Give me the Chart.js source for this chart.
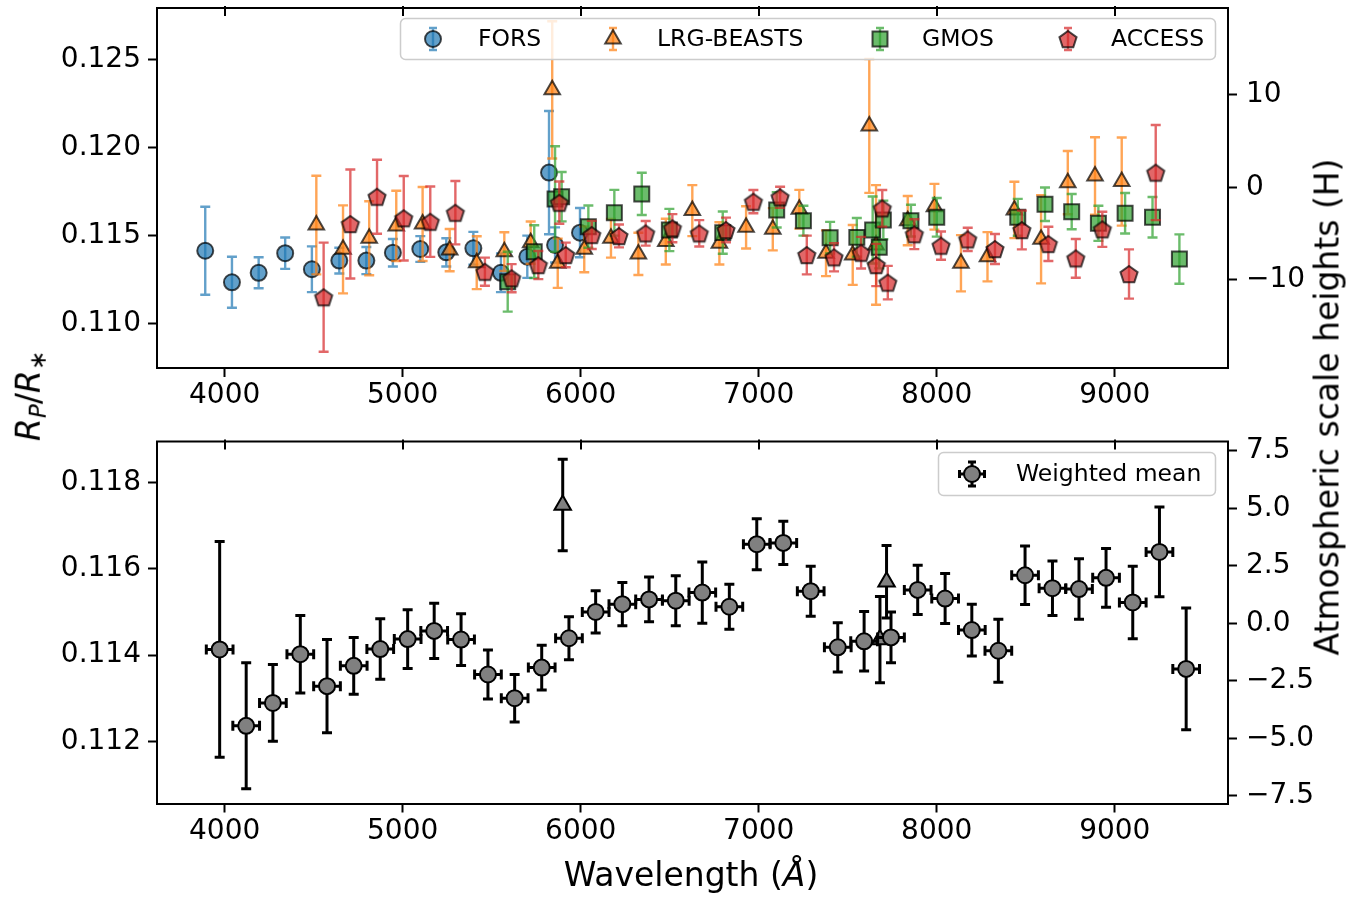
<!DOCTYPE html>
<html>
<head>
<meta charset="utf-8">
<script src="https://cdn.jsdelivr.net/npm/chart.js@4.4.1/dist/chart.umd.min.js"></script>
<style>
    body { margin: 0; background: #fff; width: 1364px; height: 897px; position: relative; overflow: hidden; font-family: 'DejaVu Sans'; }
    canvas { position: absolute; left: 0; }
    #top_chart { top: -20px; }
    #bottom_chart { top: 420px; }
    .label { position: absolute; font-size: 33px; color: #000; white-space: nowrap; line-height: 1; transform: translate(-50%, -50%); }
    .rot { transform: translate(-50%, -50%) rotate(-90deg); }
    .label sub { font-size: 0.7em; vertical-align: -0.28em; }
</style>
</head>
<body>
<canvas id="top_chart" width="1364" height="440"></canvas>
<canvas id="bottom_chart" width="1364" height="440"></canvas>
<div class="label rot" style="left:31px; top:396px;"><i>R</i><sub><i>P</i></sub>/<i>R</i><sub>∗</sub></div>
<div class="label rot" style="left:1327px; top:407px;">Atmospheric scale heights (H)</div>
<div class="label" style="left:691px; top:874px;">Wavelength (<i>Å</i>)</div>
<script>
// Rp/R* per wavelength bin (Angstrom), one set of arrays per instrument
const fors_wave = [3891, 4041, 4191, 4340, 4490, 4644, 4796, 4945, 5099, 5245, 5397, 5552, 5700, 5822, 5856, 5996];
const fors_depth = [0.11416, 0.11237, 0.11291, 0.11402, 0.11311, 0.11360, 0.11360, 0.11405, 0.11426, 0.11407, 0.11430, 0.11291, 0.11382, 0.11860, 0.11449, 0.11519];
const fors_err = [0.0025, 0.00145, 0.00088, 0.00089, 0.0013, 0.00073, 0.00077, 0.00078, 0.00073, 0.0008, 0.00093, 0.0011, 0.0012, 0.0035, 0.0010, 0.0014];

const lrg_wave = [4515, 4665, 4812, 4964, 5112, 5264, 5416, 5571, 5719, 5840, 5871, 6020, 6170, 6324, 6478, 6627, 6779, 6929, 7079, 7228, 7378, 7528, 7621, 7659, 7837, 7987, 8136, 8285, 8436, 8586, 8736, 8889, 9039];
const lrg_depth = [0.11562, 0.11424, 0.11487, 0.11557, 0.11568, 0.11420, 0.11348, 0.11411, 0.11462, 0.12330, 0.11345, 0.11424, 0.11487, 0.11398, 0.11468, 0.11644, 0.11458, 0.11549, 0.11538, 0.11652, 0.11402, 0.11392, 0.12125, 0.11449, 0.11587, 0.11666, 0.11345, 0.11382, 0.11648, 0.11481, 0.11803, 0.11841, 0.11809];
const lrg_err = [0.0028, 0.0025, 0.0021, 0.0020, 0.0021, 0.0012, 0.0015, 0.0011, 0.0012, 0.0039, 0.0014, 0.0013, 0.0011, 0.0012, 0.0013, 0.00145, 0.0012, 0.0012, 0.0012, 0.0011, 0.0013, 0.0017, 0.0038, 0.0034, 0.0014, 0.0013, 0.0016, 0.0014, 0.0016, 0.0025, 0.0018, 0.0022, 0.0025];

const gmos_wave = [5590, 5739, 5856, 5893, 6043, 6189, 6343, 6498, 6798, 7101, 7251, 7401, 7551, 7640, 7677, 7700, 7855, 8000, 8455, 8608, 8758, 8908, 9058, 9212, 9363];
const gmos_depth = [0.11240, 0.11411, 0.11710, 0.11723, 0.11553, 0.11632, 0.11739, 0.11534, 0.11519, 0.11648, 0.11587, 0.11490, 0.11492, 0.11534, 0.11436, 0.11591, 0.11587, 0.11606, 0.11606, 0.11680, 0.11638, 0.11572, 0.11629, 0.11606, 0.11369];
const gmos_err = [0.0017, 0.0015, 0.0030, 0.0014, 0.0012, 0.0013, 0.0012, 0.0012, 0.0012, 0.0010, 0.00085, 0.0009, 0.0011, 0.0019, 0.0012, 0.0011, 0.0009, 0.0011, 0.00105, 0.00095, 0.0010, 0.0010, 0.00115, 0.00115, 0.0014];

const access_wave = [4556, 4706, 4856, 5006, 5155, 5296, 5462, 5612, 5762, 5880, 5916, 6062, 6215, 6365, 6515, 6666, 6816, 6970, 7120, 7270, 7423, 7575, 7660, 7694, 7725, 7874, 8024, 8174, 8327, 8478, 8627, 8781, 8930, 9080, 9230];
const access_depth = [0.11152, 0.11568, 0.11723, 0.11601, 0.11581, 0.11632, 0.11297, 0.11260, 0.11335, 0.11689, 0.11392, 0.11506, 0.11500, 0.11515, 0.11544, 0.11515, 0.11534, 0.11695, 0.11720, 0.11392, 0.11379, 0.11405, 0.11335, 0.11657, 0.11235, 0.11510, 0.11445, 0.11481, 0.11426, 0.11534, 0.11455, 0.11373, 0.11538, 0.11284, 0.11860];
const access_err = [0.0031, 0.0031, 0.0021, 0.0024, 0.0020, 0.0018, 0.0008, 0.0008, 0.0008, 0.0012, 0.0007, 0.0008, 0.00065, 0.0007, 0.0008, 0.00075, 0.0007, 0.00066, 0.0006, 0.0011, 0.0008, 0.0009, 0.0012, 0.00104, 0.00095, 0.00085, 0.0008, 0.00066, 0.00085, 0.0011, 0.00097, 0.0011, 0.0010, 0.0014, 0.0027];

// combined spectrum: 150 A bins plus the narrow Na / K bins
const mean_wave = [3972, 4121, 4271, 4425, 4575, 4725, 4874, 5028, 5177, 5328, 5479, 5629, 5781, 5934, 6084, 6234, 6384, 6534, 6683, 6835, 6989, 7138, 7292, 7444, 7592, 7743, 7893, 8047, 8197, 8346, 8496, 8650, 8799, 8951, 9101, 9251, 9401];
const mean_depth = [0.11413, 0.11236, 0.11289, 0.11402, 0.11328, 0.11375, 0.11414, 0.11437, 0.11456, 0.11436, 0.11355, 0.11300, 0.11371, 0.11439, 0.11500, 0.11518, 0.11529, 0.11526, 0.11545, 0.11512, 0.11657, 0.11660, 0.11548, 0.11418, 0.11432, 0.11441, 0.11551, 0.11531, 0.11458, 0.11410, 0.11585, 0.11555, 0.11553, 0.11579, 0.11522, 0.11639, 0.11368];
const mean_err = [0.0025, 0.00146, 0.00089, 0.0009, 0.00108, 0.00066, 0.0007, 0.00068, 0.00064, 0.0006, 0.00057, 0.00055, 0.00052, 0.0005, 0.00049, 0.0005, 0.00052, 0.00058, 0.00071, 0.00052, 0.00059, 0.0005, 0.00058, 0.00057, 0.00069, 0.00059, 0.00057, 0.00058, 0.0006, 0.00073, 0.00068, 0.00063, 0.0007, 0.00068, 0.00084, 0.00104, 0.00141];
const mean_halfwidth = mean_wave.map(() => 75);

const narrow_wave = [5899, 7681, 7718];
const narrow_depth = [0.11748, 0.11436, 0.11570];
const narrow_err = [0.00106, 0.0010, 0.00084];

const wave_ticks = [4000, 5000, 6000, 7000, 8000, 9000];
const top_depth_ticks = [0.110, 0.115, 0.120, 0.125];
const top_height_ticks = [-10, 0, 10];
const bottom_depth_ticks = [0.112, 0.114, 0.116, 0.118];
const bottom_height_ticks = [-7.5, -5, -2.5, 0, 2.5, 5, 7.5];

Chart.defaults.font.family = "'DejaVu Sans'";
Chart.defaults.color = '#000';

const BLUE = 'rgba(31,119,180,0.7)';
const ORANGE = 'rgba(255,127,14,0.7)';
const GREEN = 'rgba(44,160,44,0.7)';
const RED = 'rgba(214,39,40,0.7)';
const EDGE = 'rgba(0,0,0,0.7)';

function points(wave, depth) {
    return wave.map((w, i) => ({x: w, y: depth[i]}));
}

// pentagon marker, there is no built in point style for it
function pentagon_marker(r, fill, edge, lw) {
    const c = document.createElement('canvas');
    const s = Math.ceil(2 * r + lw + 4);
    c.width = s;
    c.height = s;
    const g = c.getContext('2d');
    g.beginPath();
    for (let k = 0; k < 5; k++) {
        const a = -Math.PI / 2 + k * 2 * Math.PI / 5;
        const px = s / 2 + r * Math.cos(a), py = s / 2 + r * Math.sin(a) + 1;
        if (k === 0) g.moveTo(px, py); else g.lineTo(px, py);
    }
    g.closePath();
    g.fillStyle = fill;
    g.fill();
    g.lineWidth = lw;
    g.strokeStyle = edge;
    g.stroke();
    return c;
}
const pentagon = pentagon_marker(9, RED, EDGE, 2);

function minus(s) {
    return String(s).replace('-', '\u2212');
}

function fixed_ticks(list) {
    return scale => { scale.ticks = list.map(v => ({value: v})); };
}

function side_axis(width) {
    return scale => {
        scale.width = width;
        scale.paddingTop = 0;
        scale.paddingBottom = 0;
    };
}

function bottom_axis(height) {
    return scale => {
        scale.height = height;
        scale.paddingLeft = 0;
        scale.paddingRight = 0;
    };
}

const tick_font = {family: 'DejaVu Sans', size: 28};
const axis_grid = {drawOnChartArea: false, tickLength: 9, tickWidth: 2, tickColor: '#000'};
const axis_border = {display: true, color: '#000', width: 2};

function make_scales(area_bottom, canvas_height, depth_range, depth_ticks, height_range, height_ticks, height_fmt) {
    return {
        x: {
            type: 'linear', position: 'bottom', min: 3620, max: 9636,
            afterBuildTicks: fixed_ticks(wave_ticks),
            afterFit: bottom_axis(canvas_height - area_bottom),
            ticks: {font: tick_font, color: '#000', padding: 2, maxRotation: 0, autoSkip: false, callback: v => String(v)},
            grid: axis_grid, border: axis_border
        },
        y: {
            type: 'linear', position: 'left', min: depth_range[0], max: depth_range[1],
            afterBuildTicks: fixed_ticks(depth_ticks),
            afterFit: side_axis(157),
            ticks: {font: tick_font, color: '#000', padding: 7, callback: v => v.toFixed(3)},
            grid: axis_grid, border: axis_border
        },
        y2: {
            type: 'linear', position: 'right', min: height_range[0], max: height_range[1],
            afterBuildTicks: fixed_ticks(height_ticks),
            afterFit: side_axis(136),
            ticks: {font: tick_font, color: '#000', padding: 9, callback: v => minus(height_fmt(v))},
            grid: axis_grid, border: axis_border
        }
    };
}

// vertical (and optional horizontal) error bars, drawn just under each dataset's markers
const error_bars = {
    id: 'error_bars',
    beforeDatasetDraw(chart, args) {
        const ds = chart.data.datasets[args.index];
        if (!ds.y_err) return;
        const ctx = chart.ctx, xs = chart.scales.x, ys = chart.scales.y, a = chart.chartArea;
        const cap = ds.cap_size;
        ctx.save();
        ctx.beginPath();
        ctx.rect(a.left, a.top, a.right - a.left, a.bottom - a.top);
        ctx.clip();
        ctx.strokeStyle = ds.err_color;
        ctx.lineWidth = ds.err_width;
        ds.data.forEach((p, i) => {
            const px = xs.getPixelForValue(p.x), py = ys.getPixelForValue(p.y);
            const lo = ys.getPixelForValue(p.y - ds.y_err[i]);
            const hi = ys.getPixelForValue(p.y + ds.y_err[i]);
            ctx.beginPath();
            ctx.moveTo(px, lo); ctx.lineTo(px, hi);
            ctx.moveTo(px - cap, lo); ctx.lineTo(px + cap, lo);
            ctx.moveTo(px - cap, hi); ctx.lineTo(px + cap, hi);
            if (ds.x_err) {
                const l = xs.getPixelForValue(p.x - ds.x_err[i]);
                const r = xs.getPixelForValue(p.x + ds.x_err[i]);
                ctx.moveTo(l, py); ctx.lineTo(r, py);
                ctx.moveTo(l, py - cap); ctx.lineTo(l, py + cap);
                ctx.moveTo(r, py - cap); ctx.lineTo(r, py + cap);
            }
            ctx.stroke();
        });
        ctx.restore();
    }
};

// top spine with inward ticks
const frame = {
    id: 'frame',
    afterDraw(chart) {
        const ctx = chart.ctx, a = chart.chartArea, xs = chart.scales.x;
        ctx.save();
        ctx.strokeStyle = '#000';
        ctx.lineWidth = 2;
        ctx.beginPath();
        ctx.moveTo(a.left - 1, a.top);
        ctx.lineTo(a.right + 1, a.top);
        wave_ticks.forEach(w => {
            const px = Math.round(xs.getPixelForValue(w));
            ctx.moveTo(px, a.top - 2);
            ctx.lineTo(px, a.top + 8);
        });
        ctx.stroke();
        ctx.restore();
    }
};

function draw_point(ctx, style, radius, x, y, bw) {
    if (Chart.helpers && Chart.helpers.drawPoint) {
        Chart.helpers.drawPoint(ctx, {pointStyle: style, radius: radius, rotation: 0, borderWidth: bw}, x, y);
    } else {
        ctx.beginPath();
        ctx.arc(x, y, radius, 0, 2 * Math.PI);
        ctx.fill();
        ctx.stroke();
    }
}

function legend_plugin(box, items) {
    return {
        id: 'errorbar_legend',
        afterDraw(chart) {
            const ctx = chart.ctx;
            ctx.save();
            ctx.beginPath();
            ctx.roundRect(box.x, box.y, box.w, box.h, 5);
            ctx.fillStyle = 'rgba(255,255,255,0.8)';
            ctx.fill();
            ctx.strokeStyle = '#cccccc';
            ctx.lineWidth = 1.5;
            ctx.stroke();
            const cy = box.y + box.h / 2;
            items.forEach(it => {
                ctx.strokeStyle = it.err_color;
                ctx.lineWidth = it.err_width;
                ctx.beginPath();
                ctx.moveTo(it.cx, cy - it.bar); ctx.lineTo(it.cx, cy + it.bar);
                ctx.moveTo(it.cx - 4, cy - it.bar); ctx.lineTo(it.cx + 4, cy - it.bar);
                ctx.moveTo(it.cx - 4, cy + it.bar); ctx.lineTo(it.cx + 4, cy + it.bar);
                if (it.x_bar) {
                    ctx.moveTo(it.cx - it.x_bar, cy); ctx.lineTo(it.cx + it.x_bar, cy);
                    ctx.moveTo(it.cx - it.x_bar, cy - 4); ctx.lineTo(it.cx - it.x_bar, cy + 4);
                    ctx.moveTo(it.cx + it.x_bar, cy - 4); ctx.lineTo(it.cx + it.x_bar, cy + 4);
                }
                ctx.stroke();
                ctx.fillStyle = it.face;
                ctx.strokeStyle = it.edge;
                ctx.lineWidth = it.edge_width;
                draw_point(ctx, it.style, it.radius, it.cx, cy, it.edge_width);
                ctx.fillStyle = '#000';
                ctx.font = "23.5px 'DejaVu Sans'";
                ctx.textBaseline = 'middle';
                ctx.textAlign = 'left';
                ctx.fillText(it.label, it.tx, cy + 1);
            });
            ctx.restore();
        }
    };
}

function instrument(label, wave, depth, err, style, radius, color, order) {
    return {
        label: label, data: points(wave, depth), order: order,
        pointStyle: style, pointRadius: radius, pointHoverRadius: radius,
        pointBackgroundColor: color, pointBorderColor: EDGE, pointBorderWidth: 2,
        showLine: false,
        y_err: err, err_color: color, err_width: 2.4, cap_size: 5
    };
}

function top_chart() {
    const ctx = document.getElementById('top_chart').getContext('2d');
    new Chart(ctx, {
        type: 'scatter',
        data: {
            datasets: [
                instrument('FORS', fors_wave, fors_depth, fors_err, 'circle', 8, BLUE, 4),
                instrument('LRG-BEASTS', lrg_wave, lrg_depth, lrg_err, 'triangle', 9, ORANGE, 3),
                instrument('GMOS', gmos_wave, gmos_depth, gmos_err, 'rect', 10.6, GREEN, 2),
                instrument('ACCESS', access_wave, access_depth, access_err, pentagon, 9, RED, 1)
            ]
        },
        options: {
            responsive: false,
            animation: false,
            layout: {padding: {top: 28, left: 0, right: 0, bottom: 0}},
            plugins: {legend: {display: false}, tooltip: {enabled: false}},
            scales: make_scales(388, 440, [0.1075, 0.12795], top_depth_ticks, [-19.54, 19.38], top_height_ticks, v => String(v))
        },
        plugins: [error_bars, frame, legend_plugin({x: 400.5, y: 38.5, w: 815, h: 41}, [
            {label: 'FORS', cx: 433, tx: 478, style: 'circle', radius: 8, face: BLUE, edge: EDGE, edge_width: 2, err_color: BLUE, err_width: 2.4, bar: 11},
            {label: 'LRG-BEASTS', cx: 613, tx: 657, style: 'triangle', radius: 9, face: ORANGE, edge: EDGE, edge_width: 2, err_color: ORANGE, err_width: 2.4, bar: 11},
            {label: 'GMOS', cx: 880, tx: 922, style: 'rect', radius: 10.6, face: GREEN, edge: EDGE, edge_width: 2, err_color: GREEN, err_width: 2.4, bar: 11},
            {label: 'ACCESS', cx: 1068, tx: 1111, style: pentagon, radius: 9, face: RED, edge: EDGE, edge_width: 2, err_color: RED, err_width: 2.4, bar: 11}
        ])]
    });
}

function bottom_chart() {
    const ctx = document.getElementById('bottom_chart').getContext('2d');
    new Chart(ctx, {
        type: 'scatter',
        data: {
            datasets: [
                {
                    label: 'Weighted mean', data: points(mean_wave, mean_depth), order: 1,
                    pointStyle: 'circle', pointRadius: 8, pointHoverRadius: 8,
                    pointBackgroundColor: '#808080', pointBorderColor: '#000', pointBorderWidth: 2,
                    showLine: false,
                    y_err: mean_err, x_err: mean_halfwidth, err_color: '#000', err_width: 3, cap_size: 5
                },
                {
                    label: 'Narrow bins', data: points(narrow_wave, narrow_depth), order: 2,
                    pointStyle: 'triangle', pointRadius: 9.5, pointHoverRadius: 9.5,
                    pointBackgroundColor: '#808080', pointBorderColor: '#000', pointBorderWidth: 2,
                    showLine: false,
                    y_err: narrow_err, err_color: '#000', err_width: 3, cap_size: 5
                }
            ]
        },
        options: {
            responsive: false,
            animation: false,
            layout: {padding: {top: 21.5, left: 0, right: 0, bottom: 0}},
            plugins: {legend: {display: false}, tooltip: {enabled: false}},
            scales: make_scales(383.5, 440, [0.11056, 0.11895], bottom_depth_ticks, [-7.83, 7.91], bottom_height_ticks, v => v.toFixed(1))
        },
        plugins: [error_bars, frame, legend_plugin({x: 938.5, y: 32.5, w: 277, h: 43}, [
            {label: 'Weighted mean', cx: 972, tx: 1016, style: 'circle', radius: 8, face: '#808080', edge: '#000', edge_width: 2, err_color: '#000', err_width: 3, bar: 12, x_bar: 12.5}
        ])]
    });
}

window.onload = () => {
    top_chart();
    bottom_chart();
}
</script>
</body>
</html>
